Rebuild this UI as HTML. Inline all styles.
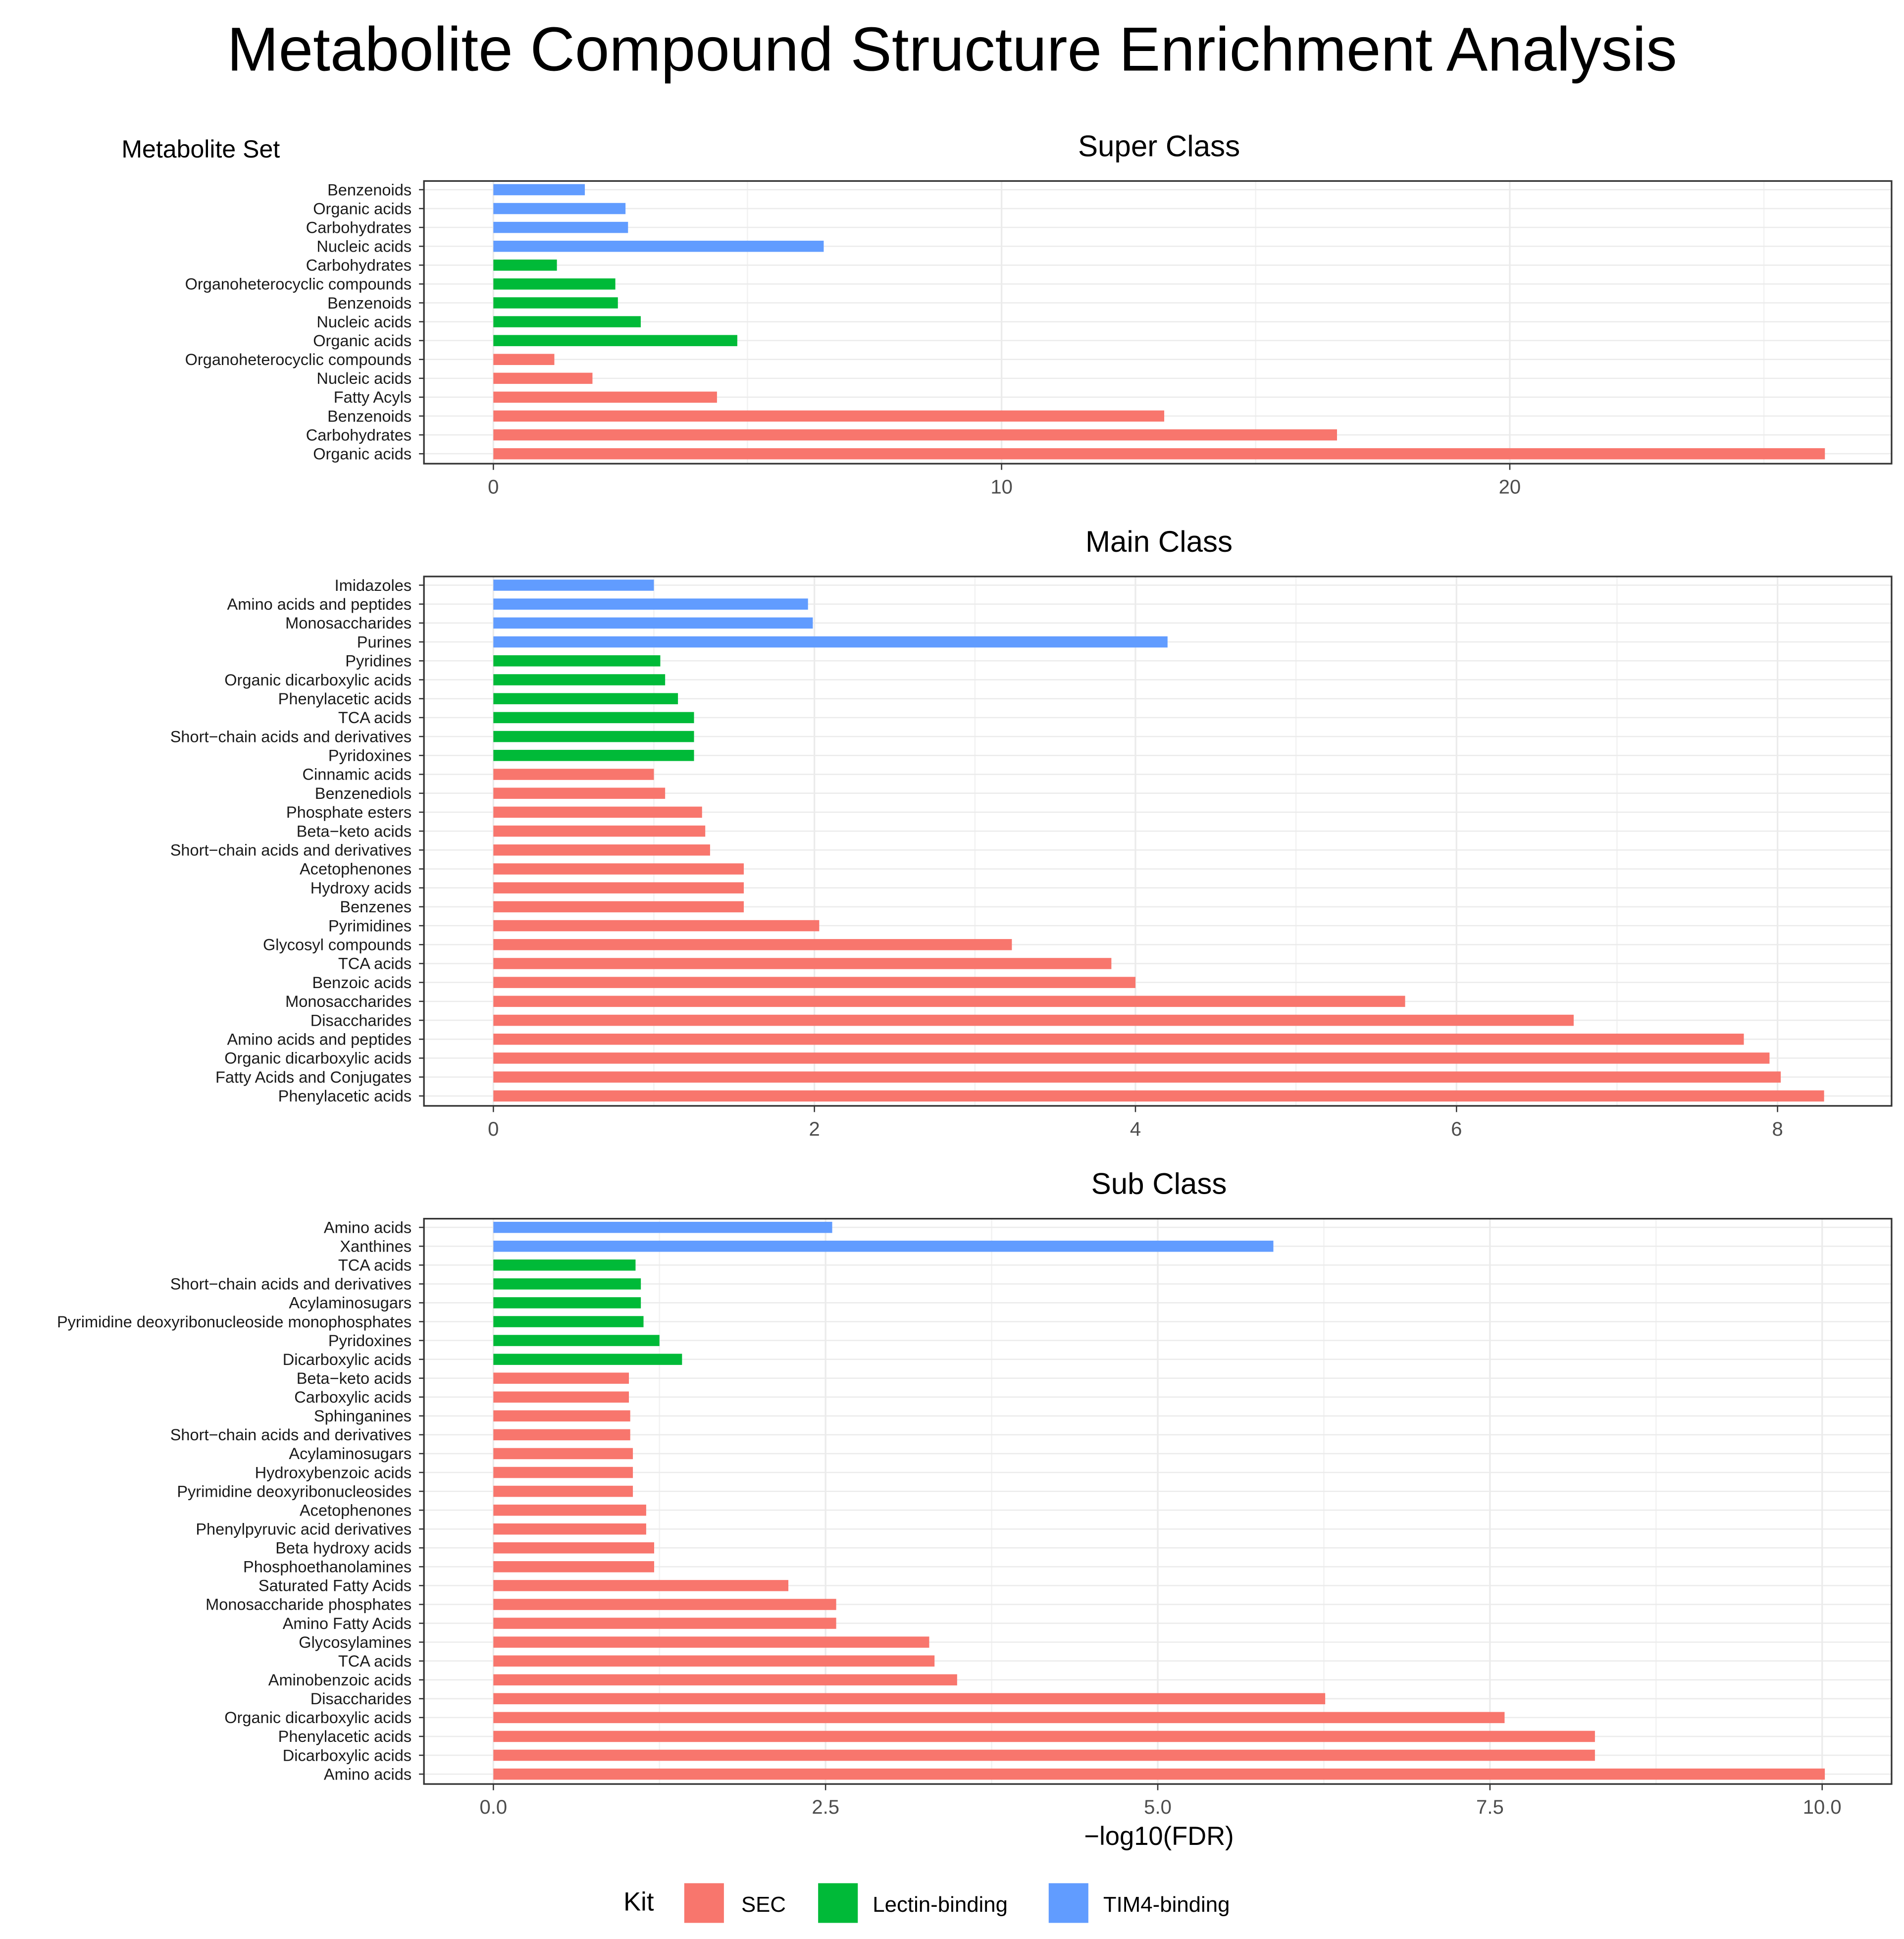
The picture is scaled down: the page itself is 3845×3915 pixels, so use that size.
<!DOCTYPE html>
<html><head><meta charset="utf-8">
<style>
html,body{margin:0;padding:0;background:#fff;}
svg{display:block;font-family:"Liberation Sans",Arial,sans-serif;}
</style></head>
<body>
<svg id="chart" width="3845" height="3915" viewBox="0 0 1536 1564" xmlns="http://www.w3.org/2000/svg">
<text x="768" y="57" font-size="50" text-anchor="middle">Metabolite Compound Structure Enrichment Analysis</text>
<text x="98" y="127" font-size="20">Metabolite Set</text>
<text x="935" y="1488" font-size="21" text-anchor="middle">−log10(FDR)</text>
<g>
<text x="503" y="1541" font-size="21">Kit</text>
<rect x="552" y="1519" width="32" height="32" fill="#F8766D"/>
<text x="598" y="1542" font-size="17.5">SEC</text>
<rect x="660" y="1519" width="32" height="32" fill="#00BA38"/>
<text x="704" y="1542" font-size="17.5">Lectin-binding</text>
<rect x="846" y="1519" width="32" height="32" fill="#619CFF"/>
<text x="890" y="1542" font-size="17.5">TIM4-binding</text>
</g>
</svg>
<script>
// Panel 1: Super Class (top to bottom)
const superLabels = ["Benzenoids","Organic acids","Carbohydrates","Nucleic acids","Carbohydrates","Organoheterocyclic compounds","Benzenoids","Nucleic acids","Organic acids","Organoheterocyclic compounds","Nucleic acids","Fatty Acyls","Benzenoids","Carbohydrates","Organic acids"];
const superValues = [1.8,2.6,2.65,6.5,1.25,2.4,2.45,2.9,4.8,1.2,1.95,4.4,13.2,16.6,26.2];
const superKits = ["T","T","T","T","L","L","L","L","L","S","S","S","S","S","S"];
const superTicks = [0,10,20];
const superTickLabels = ["0","10","20"];

// Panel 2: Main Class
const mainLabels = ["Imidazoles","Amino acids and peptides","Monosaccharides","Purines","Pyridines","Organic dicarboxylic acids","Phenylacetic acids","TCA acids","Short−chain acids and derivatives","Pyridoxines","Cinnamic acids","Benzenediols","Phosphate esters","Beta−keto acids","Short−chain acids and derivatives","Acetophenones","Hydroxy acids","Benzenes","Pyrimidines","Glycosyl compounds","TCA acids","Benzoic acids","Monosaccharides","Disaccharides","Amino acids and peptides","Organic dicarboxylic acids","Fatty Acids and Conjugates","Phenylacetic acids"];
const mainValues = [1.0,1.96,1.99,4.2,1.04,1.07,1.15,1.25,1.25,1.25,1.0,1.07,1.30,1.32,1.35,1.56,1.56,1.56,2.03,3.23,3.85,4.0,5.68,6.73,7.79,7.95,8.02,8.29];
const mainKits = ["T","T","T","T","L","L","L","L","L","L","S","S","S","S","S","S","S","S","S","S","S","S","S","S","S","S","S","S"];
const mainTicks = [0,2,4,6,8];
const mainTickLabels = ["0","2","4","6","8"];

// Panel 3: Sub Class
const subLabels = ["Amino acids","Xanthines","TCA acids","Short−chain acids and derivatives","Acylaminosugars","Pyrimidine deoxyribonucleoside monophosphates","Pyridoxines","Dicarboxylic acids","Beta−keto acids","Carboxylic acids","Sphinganines","Short−chain acids and derivatives","Acylaminosugars","Hydroxybenzoic acids","Pyrimidine deoxyribonucleosides","Acetophenones","Phenylpyruvic acid derivatives","Beta hydroxy acids","Phosphoethanolamines","Saturated Fatty Acids","Monosaccharide phosphates","Amino Fatty Acids","Glycosylamines","TCA acids","Aminobenzoic acids","Disaccharides","Organic dicarboxylic acids","Phenylacetic acids","Dicarboxylic acids","Amino acids"];
const subValues = [2.55,5.87,1.07,1.11,1.11,1.13,1.25,1.42,1.02,1.02,1.03,1.03,1.05,1.05,1.05,1.15,1.15,1.21,1.21,2.22,2.58,2.58,3.28,3.32,3.49,6.26,7.61,8.29,8.29,10.02];
const subKits = ["T","T","L","L","L","L","L","L","S","S","S","S","S","S","S","S","S","S","S","S","S","S","S","S","S","S","S","S","S","S"];
const subTicks = [0,2.5,5,7.5,10];
const subTickLabels = ["0.0","2.5","5.0","7.5","10.0"];

const NS="http://www.w3.org/2000/svg";
const svg=document.getElementById("chart");
const colors={S:"#F8766D",L:"#00BA38",T:"#619CFF"};
function mk(tag,attrs,parent){const e=document.createElementNS(NS,tag);for(const k in attrs)e.setAttribute(k,attrs[k]);(parent||svg).appendChild(e);return e;}

function panel(name,title,labels,values,kits,ticks,tickLabels,x0px,pxPerUnit,top,bottom,minorStep,maxV){
  const g=mk("g",{});
  
  
  const L=342,R=1526;
  const xs=v=>x0px+v*pxPerUnit;
  const t=mk("text",{x:935,y:top-20,"font-size":24,"text-anchor":"middle"},g);
  t.textContent=title;
  
  
  for(let v=minorStep;v<=maxV;v+=minorStep*2){
    const x=xs(v); if(x>L&&x<R){const ln=mk("line",{x1:x,x2:x,y1:top,y2:bottom,stroke:"#f2f2f2","stroke-width":1},g);
    
    }
  }
  const n=labels.length;
  const y1=top+7,y2=bottom-8;
  const step=(y2-y1)/(n-1);
  const ys=i=>y1+i*step;
  for(let i=0;i<n;i++){
    const hl=mk("line",{x1:L,x2:R,y1:ys(i),y2:ys(i),stroke:"#ebebeb","stroke-width":1},g);
    
    
  }
  ticks.forEach((v,i)=>{
    const x=xs(v);
    const gl=mk("line",{x1:x,x2:x,y1:top,y2:bottom,stroke:"#ebebeb","stroke-width":1.3},g);
    
    
    const tk=mk("line",{x1:x,x2:x,y1:bottom,y2:bottom+5,stroke:"#333","stroke-width":1},g);
    
    
    const tl=mk("text",{x:x,y:bottom+24,"font-size":16,"text-anchor":"middle",fill:"#4d4d4d"},g);
    tl.textContent=tickLabels[i];
    
    
  });
  const bh=Math.min(9,step*0.62);
  for(let i=0;i<n;i++){
    const y=ys(i);
    const b=mk("rect",{x:xs(0),y:y-bh/2,width:Math.max(0,xs(values[i])-xs(0)),height:bh,fill:colors[kits[i]]},g);
    
    
    const yt=mk("line",{x1:L-4,x2:L,y1:y,y2:y,stroke:"#333","stroke-width":1},g);
    
    
    const lb=mk("text",{x:332,y:y+4.5,"font-size":13,"text-anchor":"end",fill:"#1a1a1a"},g);
    lb.textContent=labels[i];
    
    
  }
  const box=mk("rect",{x:L,y:top,width:R-L,height:bottom-top,fill:"none",stroke:"#333","stroke-width":1.3},g);
  
  
}
panel("super-class","Super Class",superLabels,superValues,superKits,superTicks,superTickLabels,398,41,146,374,5,27);
panel("main-class","Main Class",mainLabels,mainValues,mainKits,mainTicks,mainTickLabels,398,129.5,465,892,1,8.5);
panel("sub-class","Sub Class",subLabels,subValues,subKits,subTicks,subTickLabels,398,107.2,983,1439,1.25,10.5);
</script>
</body></html>
